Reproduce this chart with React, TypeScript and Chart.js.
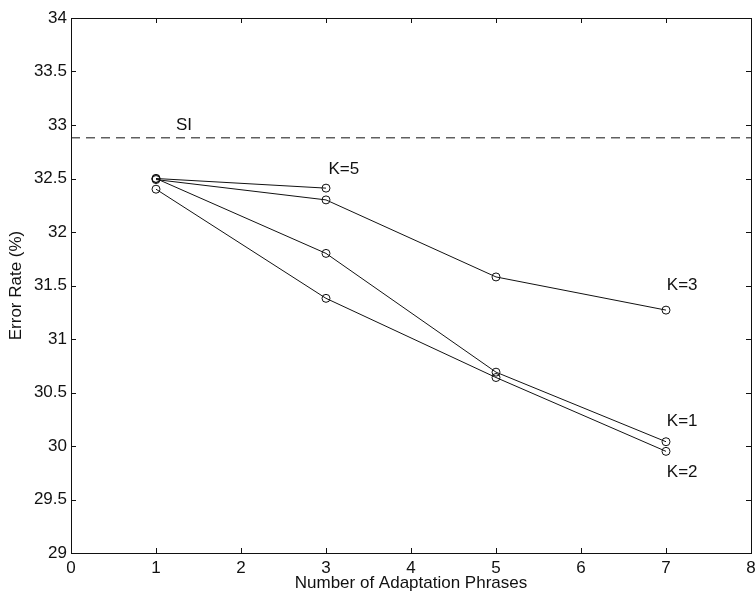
import React, { useEffect, useRef } from "react";
import { Chart, registerables } from "chart.js";

Chart.register(...registerables);

const phrases = [1, 3, 5, 7];
const k1 = [32.5, 31.8, 30.69, 30.04];
const k2 = [32.4, 31.38, 30.64, 29.95];
const k3 = [32.49, 32.3, 31.58, 31.27];
const k5X = [1, 3];
const k5 = [32.5, 32.41];
const siX = [0, 8];
const siValue = 32.88;
const yTicks = [29, 29.5, 30, 30.5, 31, 31.5, 32, 32.5, 33, 33.5, 34];
const xTicks = [0, 1, 2, 3, 4, 5, 6, 7, 8];
const textLabels = [
  { text: "SI", x: 1.33, y: 33.0 },
  { text: "K=5", x: 3.21, y: 32.59 },
  { text: "K=3", x: 7.19, y: 31.5 },
  { text: "K=1", x: 7.19, y: 30.23 },
  { text: "K=2", x: 7.19, y: 29.75 },
];

const FONT = "'Liberation Sans', Arial, Helvetica, sans-serif";
const FS = 17;

const boxPlugin = {
  id: "boxTicks",
  afterDraw(chart: any) {
    const { ctx, chartArea, scales } = chart;
    const { left, right, top, bottom } = chartArea;
    const xs = scales.x;
    const ys = scales.y;
    ctx.save();
    ctx.strokeStyle = "#111";
    ctx.lineWidth = 1;
    ctx.strokeRect(Math.round(left) + 0.5, Math.round(top) + 0.5, Math.round(right - left), Math.round(bottom - top));
    const L = 5;
    ctx.beginPath();
    xTicks.forEach((v) => {
      const px = Math.round(xs.getPixelForValue(v)) + 0.5;
      ctx.moveTo(px, bottom);
      ctx.lineTo(px, bottom - L);
      ctx.moveTo(px, top);
      ctx.lineTo(px, top + L);
    });
    yTicks.forEach((v) => {
      const py = Math.round(ys.getPixelForValue(v)) + 0.5;
      ctx.moveTo(left, py);
      ctx.lineTo(left + L, py);
      ctx.moveTo(right, py);
      ctx.lineTo(right - L, py);
    });
    ctx.stroke();
    ctx.fillStyle = "#111";
    ctx.font = FS + "px " + FONT;
    ctx.textAlign = "center";
    ctx.textBaseline = "middle";
    textLabels.forEach((l) => {
      ctx.fillText(l.text, xs.getPixelForValue(l.x), ys.getPixelForValue(l.y));
    });
    ctx.restore();
  },
};

export default function App() {
  const ref = useRef<HTMLCanvasElement>(null);
  useEffect(() => {
    document.body.style.margin = "0";
    const lineDs = (xsArr: number[], ysArr: number[]) => ({
      data: xsArr.map((x, i) => ({ x, y: ysArr[i] })),
      borderColor: "#111",
      borderWidth: 1,
      pointRadius: 4,
      pointBorderWidth: 1,
      pointBorderColor: "#111",
      pointBackgroundColor: "rgba(0,0,0,0)",
      pointStyle: "circle",
      fill: false,
      tension: 0,
    });
    const chart = new Chart(ref.current!, {
      type: "line",
      data: {
        datasets: [
          {
            data: siX.map((x) => ({ x, y: siValue })),
            borderColor: "#111",
            borderWidth: 1,
            borderDash: [9, 6],
            pointRadius: 0,
            fill: false,
          } as any,
          lineDs(phrases, k1),
          lineDs(phrases, k2),
          lineDs(phrases, k3),
          lineDs(k5X, k5),
        ],
      },
      options: {
        animation: false,
        responsive: true,
        maintainAspectRatio: false,
        layout: { padding: { top: 18, right: 4, left: 0, bottom: 0 } },
        plugins: { legend: { display: false }, tooltip: { enabled: false } },
        scales: {
          x: {
            type: "linear",
            min: 0,
            max: 8,
            grid: { display: false, drawTicks: false },
            border: { display: false },
            ticks: {
              stepSize: 1,
              padding: 5,
              color: "#111",
              font: { size: FS, family: FONT },
              maxRotation: 0,
              callback: (v: any) => String(v),
            },
            title: {
              display: true,
              text: "Number of Adaptation Phrases",
              color: "#111",
              font: { size: FS, family: FONT },
              padding: { top: 0, bottom: 5 },
            },
            afterFit: (s: any) => {
              s.height = 46;
              s.paddingLeft = 0;
              s.paddingRight = 0;
            },
          },
          y: {
            type: "linear",
            min: 29,
            max: 34,
            grid: { display: false, drawTicks: false },
            border: { display: false },
            ticks: {
              stepSize: 0.5,
              padding: 4,
              color: "#111",
              font: { size: FS, family: FONT },
              callback: (v: any) => String(v),
            },
            title: {
              display: true,
              text: "Error Rate (%)",
              color: "#111",
              font: { size: FS, family: FONT },
              padding: { top: 6, bottom: 0 },
            },
            afterFit: (s: any) => {
              s.width = 71;
              s.paddingTop = 0;
              s.paddingBottom = 0;
            },
          },
        },
      },
      plugins: [boxPlugin],
    });
    return () => chart.destroy();
  }, []);
  return (
    <div style={{ position: "fixed", left: 0, top: 0, width: 756, height: 599, background: "#fff" }}>
      <canvas ref={ref} />
    </div>
  );
}
